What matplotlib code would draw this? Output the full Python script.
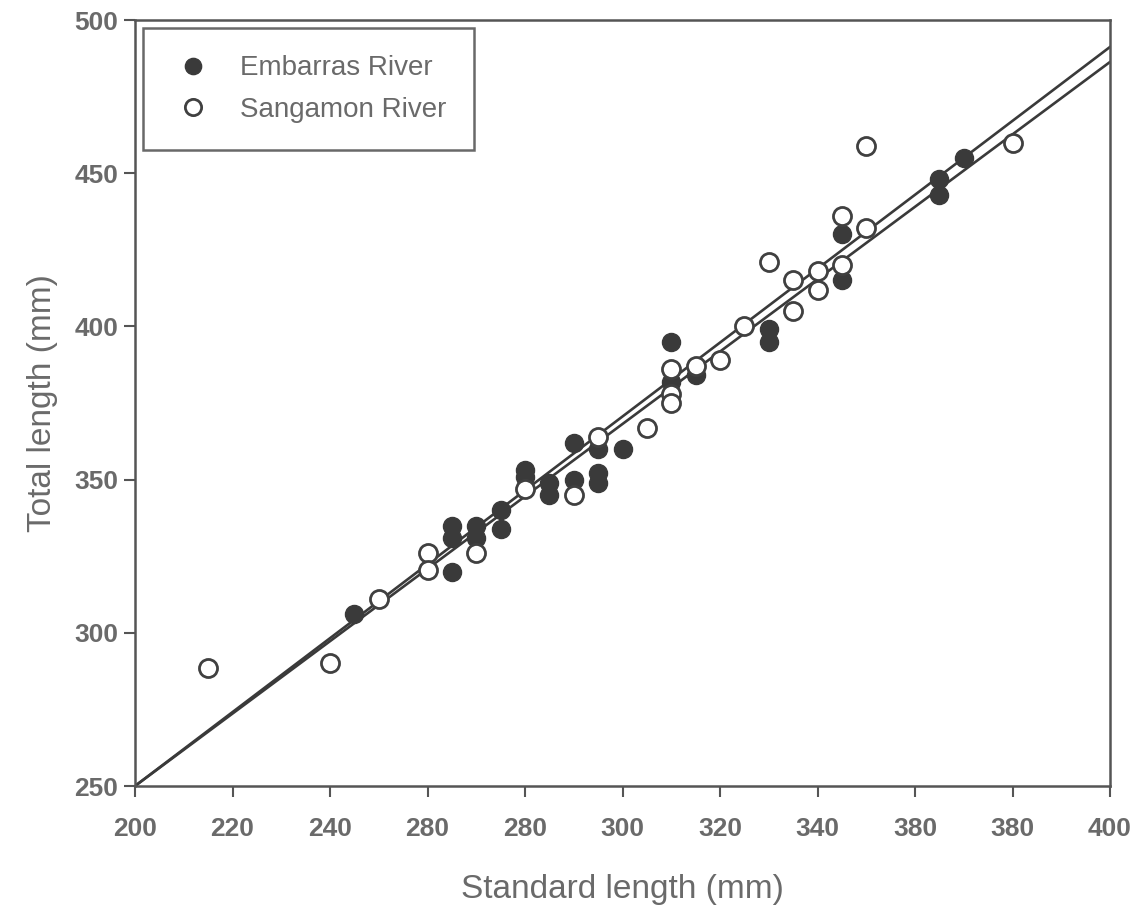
import matplotlib
matplotlib.use("Agg")
import matplotlib.pyplot as plt
import numpy as np

# ---- data ----
emb_x = [245, 265, 265, 265, 270, 270, 275, 275, 280, 280, 285, 285, 290, 290,
         295, 295, 295, 300, 310, 310, 315, 330, 330, 345, 345, 365, 365, 370]
emb_y = [306, 335, 331, 320, 335, 331, 340, 334, 353, 351, 349, 345, 362, 350,
         360, 352, 349, 360, 395, 382, 384, 399, 395, 430, 415, 448, 443, 455]

san_x = [215, 240, 250, 260, 260, 270, 280, 290, 295, 305, 310, 310, 310, 315,
         320, 325, 330, 335, 335, 340, 340, 345, 345, 350, 350, 380]
san_y = [288.5, 290, 311, 326, 320.5, 326, 347, 345, 364, 367, 386, 378, 375, 387,
         389, 400, 421, 415, 405, 418, 412, 436, 420, 459, 432, 460]

# regression lines (slope, intercept)
fit_emb = (1.206, 8.8)
fit_san = (1.1815, 13.7)
line_x = [200, 400]

xticks = [200, 220, 240, 260, 280, 300, 320, 340, 360, 380, 400]
xtick_labels = ["200", "220", "240", "280", "280", "300", "320", "340", "380", "380", "400"]
yticks = [250, 300, 350, 400, 450, 500]

# ---- style ----
fam = ["Liberation Sans Narrow", "Liberation Sans", "DejaVu Sans"]
plt.rcParams['font.family'] = fam
txt = "#6a6a6a"
dark = "#3a3a3a"

fig = plt.figure(figsize=(11.44, 9.14), dpi=100)
ax = fig.add_axes([135/1144, 128/914, 975/1144, 766/914])

lx = np.array(line_x, dtype=float)
for s, b in (fit_emb, fit_san):
    ax.plot(lx, s*lx + b, color=dark, lw=1.9, zorder=2)

ax.plot(emb_x, emb_y, 'o', ms=13, mfc=dark, mec=dark, mew=1.0, ls='none',
        zorder=3, label="Embarras River")
ax.plot(san_x, san_y, 'o', ms=13, mfc='white', mec="#404040", mew=2.0, ls='none',
        zorder=4, label="Sangamon River")

ax.set_xlim(200, 400)
ax.set_ylim(250, 500)
ax.set_xticks(xticks)
ax.set_xticklabels(xtick_labels)
ax.set_yticks(yticks)
ax.tick_params(axis='both', direction='out', length=8, width=1.5, color="#555555",
               labelcolor=txt, labelsize=19)
ax.tick_params(axis='y', pad=4)
ax.tick_params(axis='x', pad=14)
for lab in ax.get_xticklabels() + ax.get_yticklabels():
    lab.set_fontweight('bold')
for sp in ax.spines.values():
    sp.set_color("#555555")
    sp.set_linewidth(1.8)

ax.set_xlabel("Standard length (mm)", fontsize=24, color=txt, labelpad=24,
              family=["Liberation Sans", "DejaVu Sans"])
ax.set_ylabel("Total length (mm)", fontsize=24, color=txt, labelpad=12,
              family=["Liberation Sans", "DejaVu Sans"])

leg = ax.legend(loc='upper left', bbox_to_anchor=(0.008, 0.99), borderaxespad=0,
                frameon=True, fancybox=False, edgecolor="#444444", fontsize=20,
                borderpad=1.0, handletextpad=0.9, labelspacing=0.55,
                markerscale=0.9, handlelength=1.6, labelcolor=txt)
leg.get_frame().set_linewidth(1.8)

fig.savefig("out.png", dpi=100, facecolor="white")
